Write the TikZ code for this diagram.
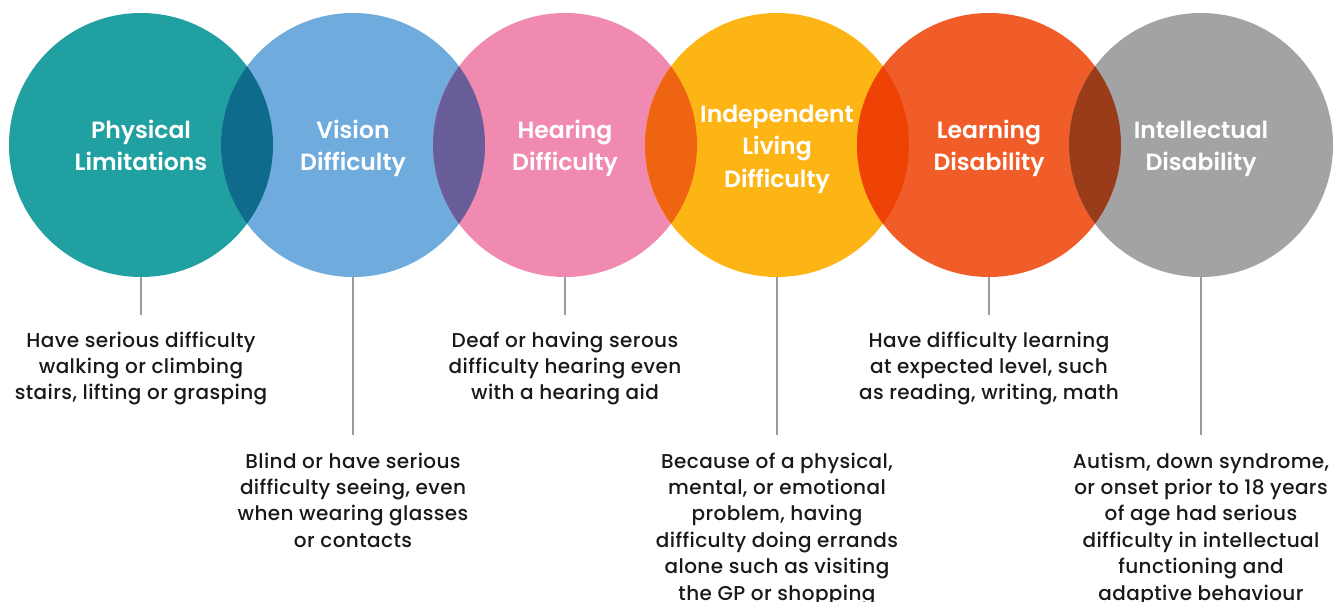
\documentclass[tikz,border=0pt]{standalone}
\usepackage{fontspec}
\setmainfont{Poppins}
\newfontfamily\headfont{Poppins SemiBold}
\newfontfamily\descfont[LetterSpace=2]{Poppins Medium}
\usetikzlibrary{positioning}

\definecolor{cphys}{HTML}{20A0A0}
\definecolor{cvis}{HTML}{6FABDD}
\definecolor{chear}{HTML}{F18AB0}
\definecolor{cind}{HTML}{FDB516}
\definecolor{clearn}{HTML}{F15D28}
\definecolor{cint}{HTML}{A3A3A5}
% overlap colours
\definecolor{oa}{HTML}{0F6B8B}
\definecolor{ob}{HTML}{695D99}
\definecolor{oc}{HTML}{EF6410}
\definecolor{od}{HTML}{EF4305}
\definecolor{oe}{HTML}{9A3B1A}
\definecolor{stemgray}{HTML}{9A9A9A}

\tikzset{
  bubble/.style={circle, inner sep=0pt, minimum size=264pt},
  head/.style={text=white, align=center, yshift=-3pt, font=\fontsize{23.5}{32.5}\selectfont\headfont},
  desc/.style={anchor=north, align=center, text=black!90, inner sep=0pt,
    font=\fontsize{20}{26.4}\selectfont\descfont},
  stem/.style={draw=stemgray, line width=1.1pt}
}

\begin{document}
\begin{tikzpicture}[x=1pt,y=-1pt]
\useasboundingbox (0,0) rectangle (1344,602);

\foreach \i/\x/\col in {1/141/cphys,2/353/cvis,3/565/chear,4/777/cind,5/989/clearn,6/1201/cint}
\node[bubble, fill=\col] (c\i) at (\x,145) {};

\foreach \a/\b/\col in {1/2/oa,2/3/ob,3/4/oc,4/5/od,5/6/oe}{
\begin{scope}
\clip (c\a.center) circle (132);
\fill[\col] (c\b.center) circle (132);
\end{scope}}

\node[head] (h1) at (c1) {\strut Physical\\\strut Limitations};
\node[head] (h2) at (c2) {\strut Vision\\\strut Difficulty};
\node[head] (h3) at (c3) {\strut Hearing\\\strut Difficulty};
\node[head] (h4) at (c4) {\strut Independent\\\strut Living\\\strut Difficulty};
\node[head] (h5) at (c5) {\strut Learning\\\strut Disability};
\node[head] (h6) at (c6) {\strut Intellectual\\\strut Disability};

\foreach \i/\y in {1/315,2/435,3/315,4/435,5/315,6/435}{
\coordinate (e\i) at ([yshift=-\y+277]c\i.south);
\draw[stem] (c\i.south) -- (e\i);
}

\node[desc] (d1) at (141,331.5) {Have serious difficulty\\walking or climbing\\stairs, lifting or grasping};
\node[desc] (d2) at (353,452.5) {Blind or have serious\\difficulty seeing, even\\when wearing glasses\\or contacts};
\node[desc] (d3) at (565,331.5) {Deaf or having serous\\difficulty hearing even\\with a hearing aid};
\node[desc] (d4) at (777,452.5) {Because of a physical,\\mental, or emotional\\problem, having\\difficulty doing errands\\alone such as visiting\\the GP or shopping};
\node[desc] (d5) at (989,331.5) {Have difficulty learning\\at expected level, such\\as reading, writing, math};
\node[desc] (d6) at (1201,452.5) {Autism, down syndrome,\\or onset prior to 18 years\\of age had serious\\difficulty in intellectual\\functioning and\\adaptive behaviour};

\end{tikzpicture}
\end{document}
